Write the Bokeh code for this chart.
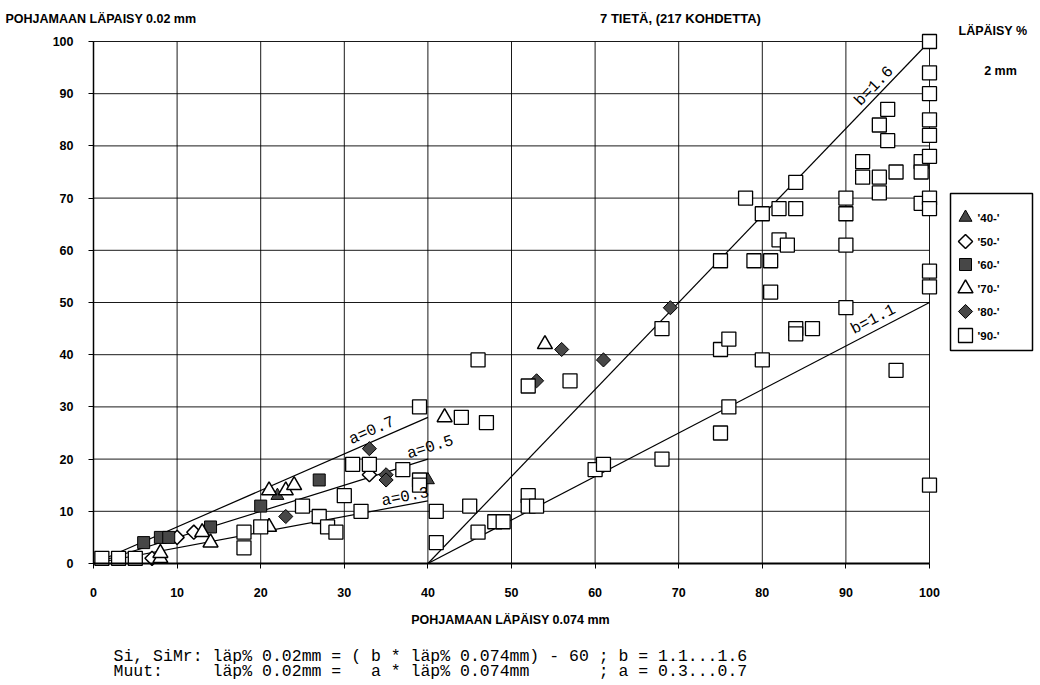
import math
from bokeh.plotting import figure
from bokeh.models import Range1d, Label, FixedTicker
from bokeh.core.properties import value
from bokeh.embed import file_html
from bokeh.resources import INLINE

# ---- measurements: passing % at 0.074 mm (x) vs passing % at 0.02 mm (y) ----
x40 = [22, 40]
y40 = [13, 16]

x50 = [7, 10, 12, 33]
y50 = [1, 5, 6, 17]

x60 = [6, 8, 9, 14, 20, 27]
y60 = [4, 5, 5, 7, 11, 16]

x70 = [8, 8, 13, 14, 21, 21, 23, 24, 42, 54]
y70 = [1, 2, 6, 4, 7, 14, 14, 15, 28, 42]

x80 = [23, 33, 35, 35, 53, 56, 61, 69]
y80 = [9, 22, 17, 16, 35, 41, 39, 49]

x90 = [1, 3, 5, 18, 18, 20, 25, 27, 28, 29, 30, 31, 32, 33, 37, 39, 39, 39,
       41, 41, 44, 45, 46, 46, 47, 48, 49, 52, 52, 52, 53, 57, 60, 61, 68, 68,
       75, 75, 75, 76, 76, 78, 79, 80, 80, 81, 81, 82, 82, 83, 84, 84, 84, 84,
       86, 90, 90, 90, 90, 92, 92, 94, 94, 94, 95, 95, 96, 96, 99, 99, 99,
       100, 100, 100, 100, 100, 100, 100, 100, 100, 100, 100]
y90 = [1, 1, 1, 6, 3, 7, 11, 9, 7, 6, 13, 19, 10, 19, 18, 16, 15, 30,
       10, 4, 28, 11, 6, 39, 27, 8, 8, 34, 13, 11, 11, 35, 18, 19, 20, 45,
       25, 41, 58, 30, 43, 70, 58, 39, 67, 58, 52, 62, 68, 61, 73, 68, 45, 44,
       45, 70, 67, 61, 49, 77, 74, 74, 71, 84, 87, 81, 75, 37, 77, 75, 69,
       100, 94, 90, 85, 82, 78, 70, 68, 56, 53, 15]

series_labels = ["'40-'", "'50-'", "'60-'", "'70-'", "'80-'", "'90-'"]

# reference lines
a_values = [0.7, 0.5, 0.3]          # y = a * x  for x in [0, 40]
a_x = [0, 40]
b_values = [1.6, 1.1]               # drawn from (40, 0) to (100, b*100 - 60)
b_x = [40, 100]

xticks = list(range(0, 101, 10))
yticks = list(range(0, 101, 10))

FONT = "Liberation Sans"
MONO = "Liberation Mono"
GRAY = "#474747"

W, H = 1040, 685
# plotting area inside the canvas (pixels)
LEFT, RIGHT, TOP, BOTTOM = 93, 929, 41, 563
sx = (RIGHT - LEFT) / 100.0
sy = (BOTTOM - TOP) / 100.0

def dx(px):
    return (px - LEFT) / sx

def dy(py):
    return (BOTTOM - py) / sy

# the frame covers the whole canvas so that the surrounding texts and the
# legend are drawn inside it; the axes sit at fixed data positions
x_range = Range1d(dx(0), dx(W))
y_range = Range1d(dy(H), dy(0))

p = figure(width=W, height=H, x_range=x_range, y_range=y_range,
           min_border=0, output_backend="svg", toolbar_location=None)
p.title.visible = False
p.outline_line_color = None
p.background_fill_color = "white"
p.grid.visible = False

# grid
p.segment(x0=xticks, y0=[0] * len(xticks), x1=xticks, y1=[100] * len(xticks),
          line_color="black", line_width=1, line_alpha=0.9)
p.segment(x0=[0] * len(yticks), y0=yticks, x1=[100] * len(yticks), y1=yticks,
          line_color="black", line_width=1, line_alpha=0.9)

p.xaxis.fixed_location = 0
p.yaxis.fixed_location = 0
p.xaxis.bounds = (0, 100)
p.yaxis.bounds = (0, 100)
p.xaxis.ticker = FixedTicker(ticks=xticks)
p.yaxis.ticker = FixedTicker(ticks=yticks)
for ax in (p.xaxis, p.yaxis):
    ax.axis_line_color = "black"
    ax.major_tick_line_color = "black"
    ax.major_tick_in = 0
    ax.major_tick_out = 5
    ax.minor_tick_line_color = None
    ax.major_label_text_font = FONT
    ax.major_label_text_font_style = "bold"
    ax.major_label_text_font_size = "12.5px"
    ax.major_label_text_color = "black"
p.xaxis.axis_line_width = 2
p.yaxis.axis_line_width = 1.5
p.xaxis.major_label_standoff = 19
p.yaxis.major_label_standoff = 15

# reference lines
for a in a_values:
    p.line(a_x, [a * x for x in a_x], line_color="black", line_width=1.2)
for b in b_values:
    p.line(b_x, [0, b * 100 - 60], line_color="black", line_width=1.2)

def ang(slope):
    return math.atan(slope * sy / sx)

def line_label(x, y, text, slope):
    p.add_layout(Label(x=x, y=y, text=text, angle=ang(slope),
                       text_font=MONO, text_font_size="16px", text_color="black",
                       text_align="center", text_baseline="middle"))

line_label(33.3, 25.4, "a=0.7", 0.7)
line_label(40.3, 22.2, "a=0.5", 0.5)
line_label(37.3, 12.7, "a=0.3", 0.3)
line_label(93.4, 91.4, "b=1.6", 100 / 60)
line_label(93.3, 46.7, "b=1.1", 50 / 60)

# marker styles per decade
styles = [
    dict(marker="triangle", size=13, fill_color=GRAY, line_color="black", line_width=1, angle=0),
    dict(marker="square", size=10, fill_color="white", line_color="black", line_width=1.5, angle=math.pi / 4),
    dict(marker="square", size=12, fill_color=GRAY, line_color="black", line_width=1, angle=0),
    dict(marker="triangle", size=15, fill_color="white", line_color="black", line_width=1.5, angle=0),
    dict(marker="square", size=10, fill_color=GRAY, line_color="black", line_width=1, angle=math.pi / 4),
    dict(marker="square", size=14, fill_color="white", line_color="black", line_width=1.3, angle=0),
]
xs = [x40, x50, x60, x70, x80, x90]
ys = [y40, y50, y60, y70, y80, y90]

for xv, yv, st in zip(xs, ys, styles):
    p.scatter(xv, yv, **st)

# legend box with one row per decade
LEG_L, LEG_R, LEG_T, LEG_B = 950, 1032, 193, 350
leg_rows = [217, 241, 264, 288, 311, 335]
p.quad(left=[dx(LEG_L)], right=[dx(LEG_R)], top=[dy(LEG_T)], bottom=[dy(LEG_B)],
       fill_color="white", line_color="black", line_width=1.5)
for row, st in zip(leg_rows, styles):
    p.scatter([dx(965)], [dy(row)], **st)
p.text(x=[dx(977)] * len(leg_rows), y=[dy(r) for r in leg_rows], text=series_labels,
       text_font=value(FONT), text_font_style="bold", text_font_size="11.5px",
       text_color="black", text_align="left", text_baseline="middle")

# texts around the plot, positioned in canvas pixels (y measured from the top)
def canvas_label(x, y_top, text, align="left", font=FONT, size="12px", bold=True):
    p.add_layout(Label(x=x, y=H - y_top, x_units="screen", y_units="screen",
                       text=text, text_font=font, text_font_size=size,
                       text_align=align, text_baseline="middle",
                       text_color="black",
                       text_font_style="bold" if bold else "normal"))

canvas_label(5, 18, "POHJAMAAN LÄPAISY 0.02 mm", size="12.5px")
canvas_label(680, 18, "7 TIETÄ, (217 KOHDETTA)", align="center", size="13px")
canvas_label(958, 30, "LÄPÄISY %", size="12.5px")
canvas_label(1000, 70, "2 mm", align="center", size="12.5px")
canvas_label(510, 619, "POHJAMAAN LÄPÄISY 0.074 mm", align="center", size="12.5px")

NB = "\u00a0"
formula_1 = "Si, SiMr: läp% 0.02mm = ( b * läp% 0.074mm) - 60 ; b = 1.1...1.6"
formula_2 = "Muut:     läp% 0.02mm =   a * läp% 0.074mm       ; a = 0.3...0.7"
canvas_label(113, 656, formula_1.replace(" ", NB), font=MONO, size="16.5px", bold=False)
canvas_label(113, 671, formula_2.replace(" ", NB), font=MONO, size="16.5px", bold=False)

open("out.html", "w").write(file_html(p, INLINE))
